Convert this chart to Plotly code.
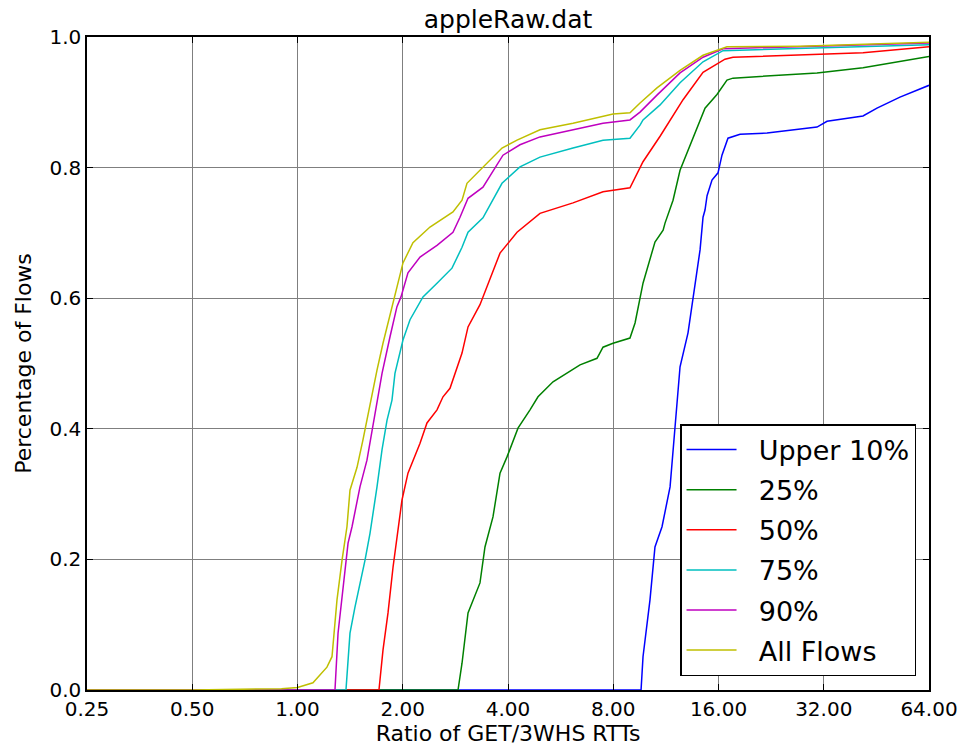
import plotly.graph_objects as go
import math

# ---- data (x = ratio of GET/3WHS RTTs, y = cumulative fraction of flows) ----
upper10_x = [0.25, 9.607, 9.733, 10.19, 10.53, 11.03, 11.63, 12.02, 12.42, 13.09, 13.53, 14.17,
             14.45, 14.64, 14.84, 15.33, 15.95, 16.37, 17.03, 18.44, 22.03, 27.37, 30.61, 32.70,
             41.44, 45.44, 52.86, 64.0]
upper10_y = [0.0, 0.0, 0.051, 0.138, 0.219, 0.250, 0.311, 0.403, 0.495, 0.547, 0.602, 0.674,
             0.724, 0.735, 0.757, 0.781, 0.792, 0.819, 0.845, 0.851, 0.853, 0.859, 0.862, 0.871,
             0.879, 0.891, 0.908, 0.926]

p25_x = [0.25, 2.878, 2.955, 3.074, 3.326, 3.437, 3.623, 3.795, 3.974, 4.272, 4.624, 4.874,
         5.381, 6.428, 7.188, 7.479, 7.988, 8.932, 9.235, 9.543, 9.733, 10.53, 11.11, 11.25,
         11.86, 12.42, 13.53, 14.64, 15.84, 16.92, 17.60, 30.61, 41.44, 64.0]
p25_y = [0.0, 0.0, 0.041, 0.118, 0.164, 0.219, 0.265, 0.332, 0.357, 0.401, 0.429, 0.449,
         0.472, 0.498, 0.508, 0.525, 0.531, 0.539, 0.562, 0.600, 0.623, 0.686, 0.704, 0.715,
         0.750, 0.796, 0.845, 0.891, 0.912, 0.934, 0.937, 0.945, 0.953, 0.970]

p50_x = [0.25, 1.710, 1.756, 1.815, 1.876, 1.938, 1.990, 2.070, 2.241, 2.346, 2.506, 2.607,
         2.730, 2.955, 3.074, 3.326, 3.795, 4.245, 4.938, 6.138, 7.479, 8.932, 9.543, 9.733,
         10.89, 12.67, 14.45, 15.64, 16.70, 17.60, 41.44, 64.0]
p50_y = [0.0, 0.0, 0.061, 0.118, 0.188, 0.250, 0.291, 0.332, 0.378, 0.409, 0.429, 0.449,
         0.462, 0.516, 0.556, 0.590, 0.669, 0.701, 0.730, 0.746, 0.763, 0.769, 0.801, 0.809,
         0.848, 0.904, 0.946, 0.957, 0.966, 0.969, 0.976, 0.985]

p75_x = [0.25, 1.376, 1.413, 1.460, 1.560, 1.612, 1.688, 1.745, 1.803, 1.863, 1.900, 2.003,
         2.098, 2.285, 2.506, 2.766, 2.955, 3.074, 3.392, 3.845, 4.328, 4.938, 6.138, 7.479,
         8.932, 9.543, 9.733, 10.89, 12.42, 14.45, 16.48, 64.0]
p75_y = [0.0, 0.0, 0.087, 0.127, 0.199, 0.240, 0.311, 0.368, 0.413, 0.444, 0.485, 0.536,
         0.567, 0.602, 0.623, 0.646, 0.678, 0.701, 0.723, 0.776, 0.801, 0.816, 0.830, 0.842,
         0.845, 0.865, 0.873, 0.896, 0.930, 0.962, 0.979, 0.988]

p90_x = [0.25, 1.280, 1.306, 1.349, 1.395, 1.432, 1.509, 1.580, 1.633, 1.688, 1.745, 1.839,
         1.925, 1.977, 2.070, 2.241, 2.506, 2.784, 2.916, 3.074, 3.392, 3.870, 4.328, 4.938,
         6.138, 7.479, 8.932, 9.543, 10.67, 12.42, 14.45, 16.48, 64.0]
p90_y = [0.0, 0.0, 0.087, 0.158, 0.225, 0.250, 0.311, 0.352, 0.398, 0.444, 0.485, 0.541,
         0.587, 0.602, 0.639, 0.663, 0.681, 0.701, 0.724, 0.753, 0.770, 0.819, 0.835, 0.847,
         0.858, 0.868, 0.873, 0.885, 0.911, 0.945, 0.969, 0.982, 0.991]

all_x = [0.25, 0.50, 0.90, 1.0, 1.107, 1.214, 1.255, 1.297, 1.341, 1.385, 1.413, 1.480,
         1.539, 1.580, 1.612, 1.688, 1.756, 1.863, 1.900, 2.003, 2.139, 2.393, 2.784, 2.955,
         3.053, 3.326, 3.845, 4.245, 4.938, 6.138, 7.332, 7.988, 8.932, 9.543, 10.67, 12.42,
         14.45, 16.92, 27.37, 64.0]
all_y = [0.0, 0.0, 0.002, 0.004, 0.011, 0.035, 0.051, 0.138, 0.199, 0.250, 0.306, 0.341,
         0.383, 0.413, 0.440, 0.490, 0.531, 0.587, 0.602, 0.654, 0.685, 0.709, 0.732, 0.750,
         0.776, 0.796, 0.830, 0.842, 0.858, 0.868, 0.877, 0.882, 0.884, 0.899, 0.922, 0.949,
         0.972, 0.985, 0.986, 0.992]

series_names = ["Upper 10%", "25%", "50%", "75%", "90%", "All Flows"]
series_x = [upper10_x, p25_x, p50_x, p75_x, p90_x, all_x]
series_y = [upper10_y, p25_y, p50_y, p75_y, p90_y, all_y]
series_colors = ["#0000FF", "#008000", "#FF0000", "#00BFBF", "#BF00BF", "#BFBF00"]

x_tick_vals = [0.25, 0.5, 1, 2, 4, 8, 16, 32, 64]
x_tick_text = ["0.25", "0.50", "1.00", "2.00", "4.00", "8.00", "16.00", "32.00", "64.00"]
y_tick_vals = [0.0, 0.2, 0.4, 0.6, 0.8, 1.0]
y_tick_text = ["0.0", "0.2", "0.4", "0.6", "0.8", "1.0"]

FONT = "DejaVu Sans"
PAD = "\u00a0\u00a0"  # visual gap between legend line sample and label

fig = go.Figure()
for i, (name, xs, ys, col) in enumerate(zip(series_names, series_x, series_y, series_colors)):
    fig.add_trace(go.Scatter(
        x=xs, y=ys, mode="lines", name=PAD + name, legendgroup=f"g{i}",
        line=dict(color=col, width=1.5),
    ))

fig.update_layout(
    width=963, height=746,
    margin=dict(l=87, r=34, t=37, b=56, autoexpand=False),
    paper_bgcolor="white", plot_bgcolor="white",
    font=dict(family=FONT, color="black", size=20),
    title=dict(text="appleRaw.dat", x=(87 + 929) / 2 / 963, xanchor="center",
               y=1 - 19 / 746, yanchor="middle", font=dict(size=25, family=FONT)),
    legend=dict(
        x=0.9846, y=0.0214, xanchor="right", yanchor="bottom",
        bgcolor="white", bordercolor="black", borderwidth=1.5,
        font=dict(size=27, family=FONT), tracegroupgap=2,
        itemwidth=50,
    ),
    showlegend=True,
)
fig.update_xaxes(
    type="log", range=[math.log10(0.25), math.log10(64)],
    tickvals=x_tick_vals, ticktext=x_tick_text,
    showgrid=True, gridcolor="#7f7f7f", gridwidth=1,
    showline=True, linecolor="black", linewidth=1.5, mirror="ticks",
    ticks="inside", ticklen=6, tickcolor="black",
    tickfont=dict(size=20, family=FONT),
    title=dict(text="Ratio of GET/3WHS RTTs", font=dict(size=22, family=FONT), standoff=5),
    zeroline=False,
)
fig.update_yaxes(
    range=[0, 1],
    tickvals=y_tick_vals, ticktext=y_tick_text,
    showgrid=True, gridcolor="#7f7f7f", gridwidth=1,
    showline=True, linecolor="black", linewidth=1.5, mirror="ticks",
    ticks="inside", ticklen=6, tickcolor="black",
    tickfont=dict(size=20, family=FONT),
    title=dict(text="Percentage of Flows", font=dict(size=22, family=FONT), standoff=12),
    zeroline=False,
)

fig.write_html("out.html")
